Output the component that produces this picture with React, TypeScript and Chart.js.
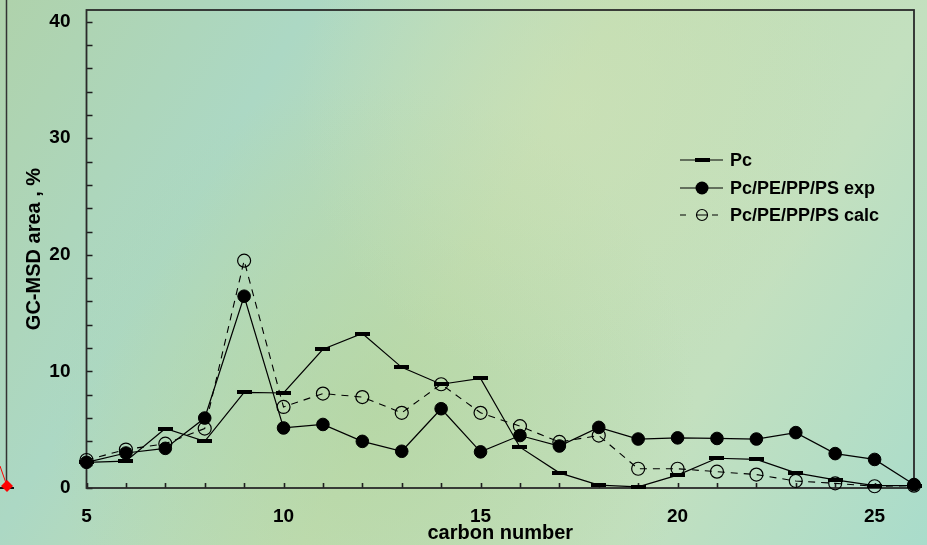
import { useEffect, useRef } from 'react';
import { Chart, registerables } from 'chart.js';

Chart.register(...registerables);

// ---- data ----
const carbonNumbers = [5, 6, 7, 8, 9, 10, 11, 12, 13, 14, 15, 16, 17, 18, 19, 20, 21, 22, 23, 24, 25, 26];
const pcValues = [2.2, 2.3, 5.1, 4.0, 8.2, 8.15, 11.9, 13.25, 10.35, 8.9, 9.4, 3.5, 1.3, 0.25, 0.1, 1.1, 2.55, 2.45, 1.3, 0.7, 0.2, 0.2];
const expValues = [2.2, 3.0, 3.4, 6.0, 16.45, 5.15, 5.45, 4.0, 3.15, 6.8, 3.1, 4.5, 3.6, 5.2, 4.2, 4.3, 4.25, 4.2, 4.75, 2.95, 2.45, 0.3];
const calcValues = [2.4, 3.3, 3.8, 5.1, 19.5, 6.95, 8.1, 7.8, 6.45, 8.9, 6.45, 5.3, 3.95, 4.5, 1.65, 1.65, 1.4, 1.15, 0.6, 0.4, 0.15, 0.2];
const seriesNames = ['Pc', 'Pc/PE/PP/PS exp', 'Pc/PE/PP/PS calc'];
const xTickLabels = [5, 10, 15, 20, 25];
const yTickLabels = [0, 10, 20, 30, 40];
const xTitle = 'carbon number';
const yTitle = 'GC-MSD area , %';

const FONT = '"Liberation Sans", Arial, Helvetica, sans-serif';

function makeDash(w: number, h: number) {
  const c = document.createElement('canvas');
  c.width = w;
  c.height = h;
  const g = c.getContext('2d')!;
  g.fillStyle = '#000';
  g.fillRect(0, 0, w, h);
  return c;
}

export default function App() {
  const ref = useRef<HTMLCanvasElement | null>(null);

  useEffect(() => {
    if (!ref.current) return;
    const dash = makeDash(15, 4);

    const toPts = (vals: number[]) => carbonNumbers.map((x, i) => ({ x, y: vals[i] }));

    const background = {
      id: 'bg',
      beforeDraw(chart: any) {
        const { ctx, width, height } = chart;
        ctx.save();
        const g = ctx.createLinearGradient(0, 0, width, height);
        g.addColorStop(0, '#afd2ab');
        g.addColorStop(0.25, '#acd8c4');
        g.addColorStop(0.5, '#c2ddb2');
        g.addColorStop(0.75, '#c3e0bf');
        g.addColorStop(1, '#a9dccb');
        ctx.fillStyle = g;
        ctx.fillRect(0, 0, width, height);
        const r = ctx.createRadialGradient(width * 0.4, height * 0.75, 10, width * 0.4, height * 0.75, width * 0.35);
        r.addColorStop(0, 'rgba(176,212,160,0.6)');
        r.addColorStop(1, 'rgba(176,212,160,0)');
        ctx.fillStyle = r;
        ctx.fillRect(0, 0, width, height);
        const r2 = ctx.createRadialGradient(width * 0.62, height * 0.2, 10, width * 0.62, height * 0.2, width * 0.3);
        r2.addColorStop(0, 'rgba(206,226,184,0.55)');
        r2.addColorStop(1, 'rgba(206,226,184,0)');
        ctx.fillStyle = r2;
        ctx.fillRect(0, 0, width, height);
        // remnant of neighbouring figure at the far left
        ctx.strokeStyle = '#333';
        ctx.lineWidth = 1.5;
        ctx.beginPath();
        ctx.moveTo(6.5, 0);
        ctx.lineTo(6.5, 488);
        ctx.stroke();
        ctx.strokeStyle = '#111';
        ctx.lineWidth = 2;
        ctx.beginPath();
        ctx.moveTo(0, 488);
        ctx.lineTo(14, 488);
        ctx.stroke();
        ctx.strokeStyle = '#ff0000';
        ctx.lineWidth = 1;
        ctx.beginPath();
        ctx.moveTo(0, 466);
        ctx.lineTo(7, 486);
        ctx.stroke();
        ctx.fillStyle = '#ff0000';
        ctx.beginPath();
        ctx.moveTo(7, 480);
        ctx.lineTo(13, 486);
        ctx.lineTo(7, 492);
        ctx.lineTo(1, 486);
        ctx.closePath();
        ctx.fill();
        ctx.restore();
      },
    };

    const frame = {
      id: 'frame',
      beforeDatasetsDraw(chart: any) {
        const { ctx, chartArea: a, scales } = chart;
        ctx.save();
        ctx.strokeStyle = '#1e1e1e';
        ctx.lineWidth = 1.6;
        ctx.beginPath();
        for (const t of scales.y.ticks) {
          const y = Math.round(scales.y.getPixelForValue(t.value)) + 0.5;
          ctx.moveTo(a.left, y);
          ctx.lineTo(a.left + 6, y);
        }
        for (const t of scales.x.ticks) {
          const x = Math.round(scales.x.getPixelForValue(t.value)) + 0.5;
          ctx.moveTo(x, a.bottom);
          ctx.lineTo(x, a.bottom - 5);
        }
        ctx.stroke();
        ctx.strokeStyle = '#2a2a2a';
        ctx.lineWidth = 1.8;
        ctx.strokeRect(a.left, a.top, a.right - a.left, a.bottom - a.top);
        ctx.restore();
      },
    };

    const legendPlugin = {
      id: 'customLegend',
      afterDraw(chart: any) {
        const { ctx, chartArea: a } = chart;
        const x0 = a.right - 234;
        const x1 = a.right - 191;
        const cx = a.right - 212;
        const rows = [a.top + 150, a.top + 178, a.top + 205];
        ctx.save();
        ctx.strokeStyle = '#000';
        ctx.lineWidth = 1.2;
        // Pc
        ctx.beginPath();
        ctx.moveTo(x0, rows[0]);
        ctx.lineTo(x1, rows[0]);
        ctx.stroke();
        ctx.drawImage(dash, cx - 7, rows[0] - 2);
        // exp
        ctx.beginPath();
        ctx.moveTo(x0, rows[1]);
        ctx.lineTo(x1, rows[1]);
        ctx.stroke();
        ctx.fillStyle = '#000';
        ctx.beginPath();
        ctx.arc(cx, rows[1], 6.5, 0, Math.PI * 2);
        ctx.fill();
        // calc
        ctx.beginPath();
        ctx.moveTo(x0, rows[2]);
        ctx.lineTo(x0 + 6, rows[2]);
        ctx.moveTo(cx - 5.5, rows[2]);
        ctx.lineTo(cx + 5.5, rows[2]);
        ctx.moveTo(cx + 10, rows[2]);
        ctx.lineTo(cx + 16, rows[2]);
        ctx.stroke();
        ctx.beginPath();
        ctx.arc(cx, rows[2], 5.5, 0, Math.PI * 2);
        ctx.stroke();
        ctx.fillStyle = '#000';
        ctx.font = `bold 18px ${FONT}`;
        ctx.textBaseline = 'middle';
        ctx.textAlign = 'left';
        seriesNames.forEach((n, i) => ctx.fillText(n, x1 + 7, rows[i] + 1));
        ctx.restore();
      },
    };

    const chart = new Chart(ref.current, {
      type: 'line',
      data: {
        datasets: [
          {
            label: seriesNames[0],
            data: toPts(pcValues),
            borderColor: '#000',
            borderWidth: 1.2,
            pointStyle: dash as any,
            pointRadius: 6,
            tension: 0,
            clip: false as any,
          },
          {
            label: seriesNames[1],
            data: toPts(expValues),
            borderColor: '#000',
            borderWidth: 1.2,
            pointStyle: 'circle',
            pointRadius: 6.3,
            pointBackgroundColor: '#000',
            pointBorderColor: '#000',
            pointBorderWidth: 1,
            tension: 0,
            clip: false as any,
          },
          {
            label: seriesNames[2],
            data: toPts(calcValues),
            borderColor: '#000',
            borderWidth: 1.1,
            borderDash: [7, 6],
            pointStyle: 'circle',
            pointRadius: 6.5,
            pointBackgroundColor: 'rgba(0,0,0,0)',
            pointBorderColor: '#000',
            pointBorderWidth: 1.2,
            tension: 0,
            clip: false as any,
          },
        ],
      },
      options: {
        animation: false,
        responsive: false,
        devicePixelRatio: 1,
        layout: { padding: { top: 10, right: 13, left: 0, bottom: 0 } },
        plugins: {
          legend: { display: false },
          tooltip: { enabled: false },
        },
        scales: {
          x: {
            type: 'linear',
            min: 5,
            max: 26,
            grid: { display: false, drawTicks: false },
            border: { display: false },
            ticks: {
              stepSize: 1,
              autoSkip: false,
              maxRotation: 0,
              padding: 17,
              color: '#000',
              font: { family: FONT, size: 19, weight: 'bold' },
              callback: (v: any) => (xTickLabels.includes(Number(v)) ? String(v) : ''),
            },
            title: {
              display: true,
              text: xTitle,
              color: '#000',
              font: { family: FONT, size: 20, weight: 'bold' },
              padding: { top: 0, bottom: 0 },
            },
            afterFit: (s: any) => {
              s.height = 57;
              s.paddingLeft = 0;
              s.paddingRight = 0;
              s.paddingTop = 0;
              s.paddingBottom = 0;
            },
          },
          y: {
            type: 'linear',
            min: 0,
            max: 41,
            grid: { display: false, drawTicks: false },
            border: { display: false },
            ticks: {
              stepSize: 2,
              includeBounds: false,
              autoSkip: false,
              padding: 16,
              color: '#000',
              font: { family: FONT, size: 19, weight: 'bold' },
              callback: (v: any) => (yTickLabels.includes(Number(v)) ? String(v) : ''),
            },
            title: {
              display: true,
              text: yTitle,
              color: '#000',
              font: { family: FONT, size: 20, weight: 'bold' },
              padding: { top: 22, bottom: 0 },
            },
            afterFit: (s: any) => {
              s.width = 86.5;
              s.paddingLeft = 0;
              s.paddingRight = 0;
              s.paddingTop = 0;
              s.paddingBottom = 0;
            },
          },
        },
      } as any,
      plugins: [background, frame, legendPlugin],
    });

    return () => chart.destroy();
  }, []);

  return (
    <div style={{ position: 'absolute', left: 0, top: 0, width: 927, height: 545 }}>
      <canvas ref={ref} width={927} height={545} style={{ display: 'block', width: 927, height: 545 }} />
    </div>
  );
}
